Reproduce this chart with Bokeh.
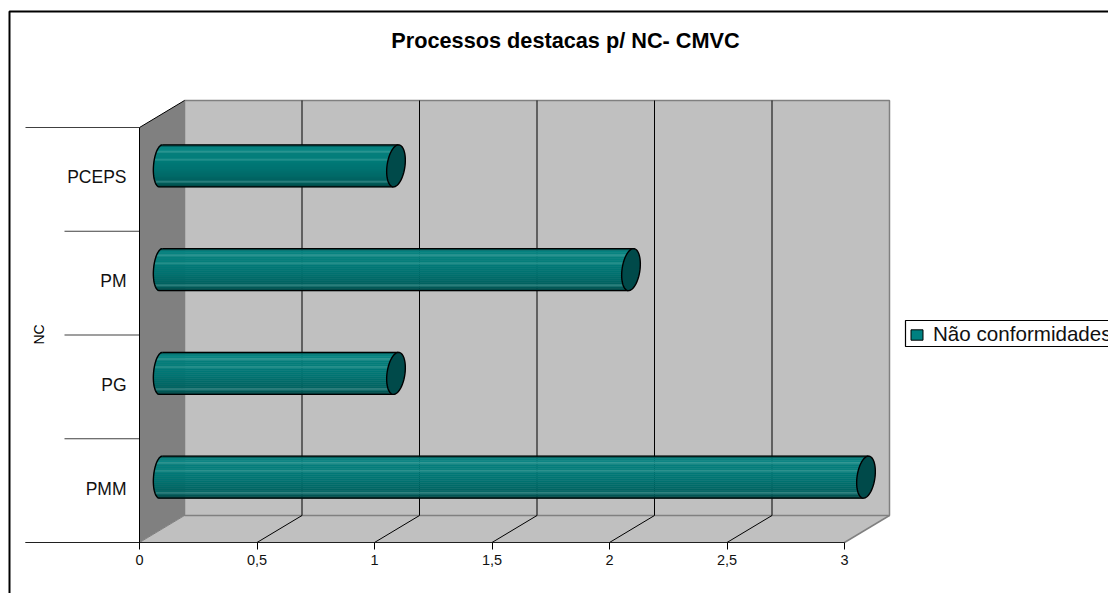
import numpy as np
from bokeh.core.properties import value
from bokeh.embed import file_html
from bokeh.models import FixedTicker, Legend, LegendItem
from bokeh.plotting import figure
from bokeh.resources import INLINE

# Chart content
categories = ["PMM", "PG", "PM", "PCEPS"]
nao_conformidades = [3, 1, 2, 1]
value_ticks = [0, 0.5, 1, 1.5, 2, 2.5, 3]
value_tick_labels = ["0", "0,5", "1", "1,5", "2", "2,5", "3"]
chart_title = "Processos destacas p/ NC- CMVC"
axis_title = "NC"
series_name = "Não conformidades"

# Screen scale of the plotting area, in pixels per data unit
W, H = 1108, 593
X0, Y0 = 139, 542
PX_X, PX_Y = 235.0, 103.75
ux = 1 / PX_X
uy = 1 / PX_Y

# Oblique depth of the 3D box
DX, DY = 45 * ux, 27 * uy
n = len(categories)
vmax = value_ticks[-1]

FONT = "Liberation Sans"
WALL = "#c0c0c0"
SIDE = "#808080"
CAP = "#004a4a"
# Shading of a cylinder from its top edge to its bottom edge
BANDS = ["#005654", "#068380", "#088481", "#2a9490", "#067f7c", "#057f7c", "#057e7b", "#238f8b",
         "#007a78", "#007876", "#007674", "#007472", "#007270", "#006f6d", "#006c6a", "#006a68",
         "#006664", "#006361", "#2a7f7d", "#005a58", "#004a49"]

p = figure(width=W, height=H, x_range=(-X0 * ux, (W - X0) * ux),
           y_range=((Y0 - H) * uy, Y0 * uy), output_backend="svg",
           toolbar_location=None, min_border=0, outline_line_color=None,
           background_fill_color="white", border_fill_color="white")
p.grid.visible = False

# Outer chart border
p.line([-(X0 - 9) * ux] * 2 + [(W - X0) * ux],
       [(Y0 - H) * uy, (Y0 - 11) * uy, (Y0 - 11) * uy],
       line_color="black", line_width=2)

# Side wall, floor and back wall
p.patch([0, DX, DX, 0], [0, DY, n + DY, n], fill_color=SIDE, line_color=None)
p.patch([0, vmax, vmax + DX, DX], [0, 0, DY, DY], fill_color=WALL, line_color=None)
p.quad(left=DX, right=vmax + DX, bottom=DY, top=n + DY, fill_color=WALL,
       line_color=SIDE, line_width=1.5)

# Gridlines on the back wall and across the floor
for t in value_ticks[1:-1]:
    p.line([t, t + DX, t + DX], [0, DY, n + DY], line_color="black", line_width=1)
p.line([0, DX], [0, DY], line_color=SIDE, line_width=1)
p.line([vmax, vmax + DX], [0, DY], line_color=SIDE, line_width=1.5)
p.line([0, DX], [n, n + DY], line_color="black", line_width=1)

# Category separators reaching left of the box
for k in range(n + 1):
    reach = 114 if k in (0, n) else 75
    p.line([-reach * ux, 0], [k, k], line_color="#404040", line_width=1.2)


def end_curve(cx, cy, a, lean, t):
    """Tilted ellipse closing a cylinder, in data units."""
    return cx + a * np.cos(t) + lean * np.sin(t), cy + 21.0 * uy * np.sin(t)


# Horizontal cylinders
for i, v in enumerate(nao_conformidades):
    cy = i + 0.5 + DY / 2
    right = v + DX / 2 - 1 * ux
    left = DX / 2 - 1 * ux
    a_left, a_right = 7.5 * ux, 9.0 * ux
    lean_left, lean_right = 1.5 * ux, 2.5 * ux
    b = 21.0 * uy
    edges = np.linspace(cy + b, cy - b, len(BANDS) + 1)
    for j, c in enumerate(BANDS):
        mid = (edges[j] + edges[j + 1]) / 2
        s = np.clip((mid - cy) / b, -1, 1)
        lx = left - a_left * np.sqrt(1 - s * s) + lean_left * s
        p.quad(left=lx, right=right + lean_right * s, bottom=edges[j + 1], top=edges[j],
               fill_color=c, line_color=c, line_width=0.5)
    t = np.linspace(np.pi / 2, 3 * np.pi / 2, 40)
    ex, ey = end_curve(left, cy, a_left, lean_left, t)
    p.line(list(ex) + [right - lean_right], list(ey) + [cy - b], line_color="black", line_width=1.4)
    p.line([ex[0], right + lean_right], [cy + b, cy + b], line_color="black", line_width=1.4)
    t = np.linspace(0, 2 * np.pi, 60)
    cx_, cy_ = end_curve(right, cy, a_right, lean_right, t)
    p.patch(cx_, cy_, fill_color=CAP, line_color="black", line_width=1.4)

# Axes run through the box corner
p.xaxis.fixed_location = 0
p.xaxis.bounds = (-114 * ux, vmax)
p.xaxis.ticker = FixedTicker(ticks=value_ticks)
p.xaxis.major_label_overrides = dict(zip(value_ticks, value_tick_labels))
p.xaxis.major_label_text_font = FONT
p.xaxis.major_label_text_font_size = "14.5px"
p.xaxis.major_label_text_color = "#111111"
p.xaxis.major_label_standoff = 5
p.xaxis.major_tick_in = 0
p.xaxis.major_tick_out = 7
p.xaxis.minor_tick_line_color = None
p.xaxis.axis_line_color = "#202020"

# Category labels sit just above each lane's centre
lane_centres = [i + 0.52 for i in range(n)]
p.yaxis.fixed_location = 0
p.yaxis.bounds = (0, n)
p.yaxis.ticker = FixedTicker(ticks=lane_centres)
p.yaxis.major_label_overrides = dict(zip(lane_centres, categories))
p.yaxis.major_label_text_font = FONT
p.yaxis.major_label_text_font_size = "17.5px"
p.yaxis.major_label_text_color = "#111111"
p.yaxis.major_label_standoff = 7
p.yaxis.major_tick_line_color = None
p.yaxis.minor_tick_line_color = None
p.yaxis.axis_line_color = "black"

# Chart title and rotated axis title
p.text([(565 - X0) * ux], [(Y0 - 40) * uy], text=[chart_title], text_font=value(FONT),
       text_font_style="bold", text_font_size="21.7px", text_align="center",
       text_baseline="middle", text_color="black")
p.text([(38 - X0) * ux], [(Y0 - 334) * uy], text=[axis_title], text_font=value(FONT),
       text_font_size="14px", text_align="center", text_baseline="middle", angle=np.pi / 2,
       text_color="black")

# Legend box runs past the right edge of the page
p.quad(left=(905 - X0) * ux, right=(W + 20 - X0) * ux, bottom=(Y0 - 346) * uy, top=(Y0 - 320) * uy,
       fill_color="white", line_color="black", line_width=1.2)
swatch = p.quad(left=[-2], right=[-2], bottom=[-2], top=[-2], fill_color="#008080", line_color="black")
legend = Legend(items=[LegendItem(label=series_name, renderers=[swatch])],
                location=(909, 247), orientation="vertical",
                label_text_font=FONT, label_text_font_size="20.6px", label_text_color="#111111",
                glyph_width=15, glyph_height=13, padding=3, margin=0, spacing=0,
                label_standoff=9, border_line_color=None, background_fill_alpha=0)
p.add_layout(legend, "center")

open("out.html", "w").write(file_html(p, INLINE))
